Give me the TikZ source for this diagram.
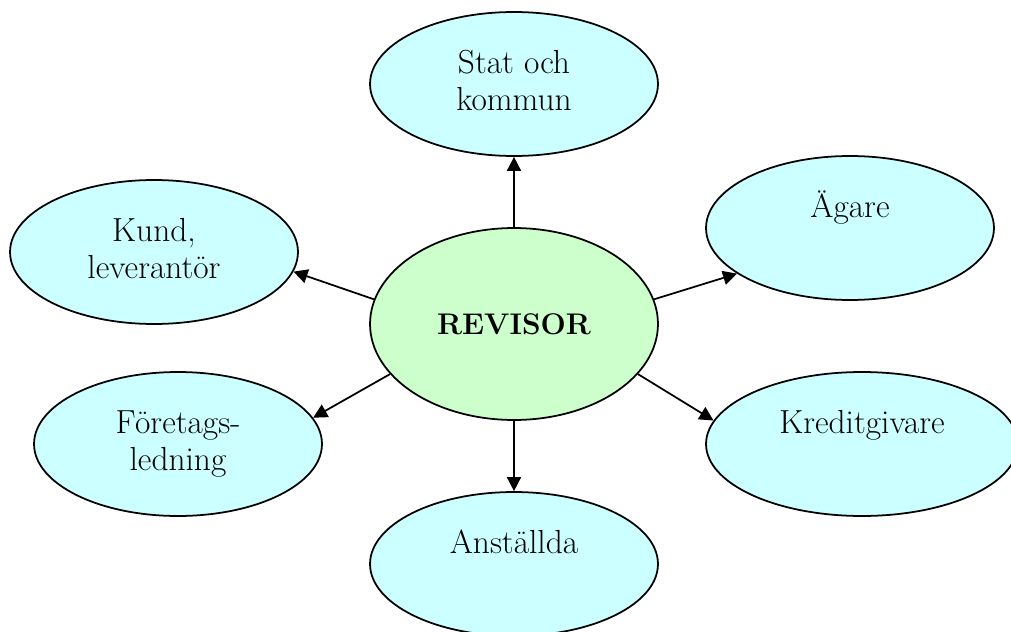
\documentclass[tikz,border=0pt]{standalone}
\usetikzlibrary{arrows.meta,shapes.geometric}
\definecolor{partcyan}{HTML}{CCFFFF}
\definecolor{revgreen}{HTML}{CCFFCC}
\tikzset{
  part/.style={ellipse,draw,line width=1pt,fill=partcyan,inner sep=0pt,
    minimum width=5.76cm,minimum height=2.88cm,align=center,
    text height=6pt,text depth=18.5pt,
    font=\fontsize{19}{21.5}\selectfont},
  twoline/.style={text height=36.6pt,text depth=6pt},
  arr/.style={-{Triangle[length=8pt,width=8pt]},line width=1pt}
}
\begin{document}
\begin{tikzpicture}[x=0.02cm,y=-0.02cm]
  \useasboundingbox (0,0) rectangle (1011,632);
  \clip (0,0) rectangle (1011,632);
  \node[ellipse,draw,line width=1pt,fill=revgreen,inner sep=0pt,
    minimum width=5.76cm,minimum height=3.84cm,
    font=\fontsize{17}{21.5}\selectfont\bfseries] (rev) at (514,324) {REVISOR};
  \node[part,twoline] (stat) at (514,84) {Stat och\\kommun};
  \node[part] (agare) at (850,228) {Ägare};
  \node[part,twoline] (kund) at (154,252) {Kund,\\leverantör};
  \node[part,twoline] (foretag) at (178,444) {Företags-\\ledning};
  \node[part,minimum width=6.24cm] (kredit) at (862,444) {Kreditgivare};
  \node[part] (anst) at (514,564) {Anställda};
  \draw[arr] (rev.90) -- (stat.south);
  \draw[arr] (rev.south) -- (anst.north);
  \draw[arr] (rev.170) -- (kund.-8);
  \draw[arr] (rev.10) -- (agare.202);
  \draw[arr] (rev.202) -- (foretag.11);
  \draw[arr] (rev.-22) -- (kredit.171);
\end{tikzpicture}
\end{document}
